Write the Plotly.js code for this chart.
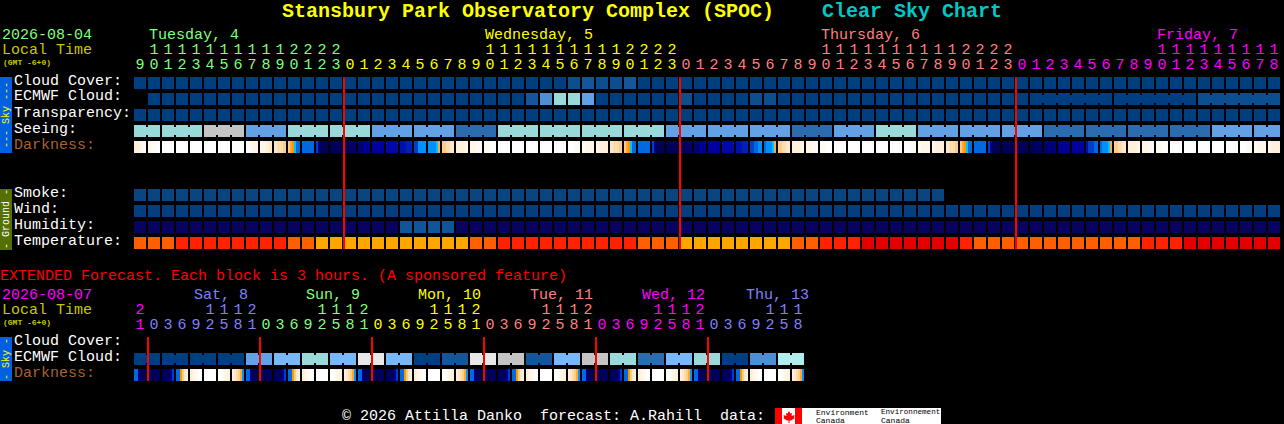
<!DOCTYPE html>
<html>
<head>
<meta charset="utf-8">
<script src="https://cdn.plot.ly/plotly-3.0.1.min.js"></script>
<style>html,body{margin:0;padding:0;background:#000;overflow:hidden}</style>
</head>
<body>
<div id="plot" style="width:1284px;height:424px"></div>
<script>
var FONT = '"Liberation Mono", monospace';

// colour classes, the series below are indexes into these
var skyColors = ['#003f7f','#0d4e8e','#15569b','#2b6cae','#4c8fd2','#62a1e3','#78b8f7','#99d9d9','#b0eded','#c4c4c4','#e8e8e8'];
var smokeColors = ['#0a4580'];
var windColors = ['#033f7f'];
var humidityColors = ['#08035f','#10559a'];
var tempColors = ['#ffa500','#ff5f00','#ff2200','#e40000'];
var darkColors = ['#ffffff','#fffaf4','#fff6ea','#fff0dc','#ffe8c8','#ffdcb0','#ffcc88','#ffa63c','#ff9800','#00c4ff','#0090ff',
  '#0068e0','#0040c8','#0020b8','#0010b0','#0008a8','#0000a0','#000090','#000078','#000068','#000058'];
var dayColors = ['#80ff80','#ffff00','#ff8080','#ff00ff'];
var extDayColors = ['#ff00ff','#8080ff','#80ff80','#ffff00','#ff8080','#ff00ff','#8080ff'];

// hourly forecast, one entry per block
var hours = [9,10,11,12,13,14,15,16,17,18,19,20,21,22,23,
  0,1,2,3,4,5,6,7,8,9,10,11,12,13,14,15,16,17,18,19,20,21,22,23,
  0,1,2,3,4,5,6,7,8,9,10,11,12,13,14,15,16,17,18,19,20,21,22,23,
  0,1,2,3,4,5,6,7,8,9,10,11,12,13,14,15,16,17,18];
var cloudCover = [0,0,0,0,0,0,0,0,0,0, 0,0,0,0,0,0,0,0,0,0, 0,0,0,0,0,0,0,0,0,0,
  0,1,2,1,1,2,0,0,0,0, 0,0,0,0,0,0,0,0,0,0, 0,0,0,0,0,0,0,0,0,0,
  0,0,0,0,0,0,0,0,0,0, 0,0,0,0,0,0,0,0,0,0, 0,0];
var ecmwfCloud = [null,0,0,0,0,0,0,0,0,0, 0,0,0,0,0,0,0,0,0,0, 0,0,0,0,0,0,0,0,2,4,
  7,7,5,0,0,0,0,0,0,1, 0,0,0,0,1,1,0,0,0,0, 0,0,0,0,0,0,0,0,0,0,
  0,0,0,0,0,0,0,0,0,0, 0,0,0,0,0,0,1,1,1,1, 1,1];
var ecmwfSpans = [1,1,1,1,1,1,1,1,1,1, 1,1,1,1,1,1,1,1,1,1, 1,1,1,1,1,1,1,1,1,1,
  1,1,1,1,1,1,1,1,1,1, 1,1,1,1,1,1,1,1,1,1, 1,1,1,1,1,1,1,1,1,1, 1,1,1,1, 6,6,6];
var transparency = [0,0,0,0,0,0,0,0,0,0, 0,0,0,0,0,0,0,0,0,0, 0,0,0,0,0,0,0,0,0,0,
  0,0,0,0,0,0,0,0,0,0, 0,0,0,0,0,0,0,0,0,0, 0,0,0,0,0,0,0,0,0,0,
  0,0,0,0,0,0,0,0,0,0, 0,0,0,0,0,0,0,0,0,0, 0,0];
var seeing = [7,7, 7,7,7, 9,9,9, 5,5,5, 7,7,7, 7,7,7, 5,5,5, 5,5,5, 3,3,3, 7,7,7, 7,7,7, 7,7,7, 7,7,7,
  5,5,5, 5,5,5, 5,5,5, 3,3,3, 5,5,5, 7,7,7, 5,5,5, 5,5,5, 5,5,5, 3,3,3, 3,3,3, 3,3,3, 3,3,3, 5,5,5, 5,5];
var seeingSpans = [2,3,3,3,3,3,3,3,3,3,3,3,3,3,3,3,3,3,3,3,3,3,3,3,3,3,3,2];
var darkness = [[3,3,2,1],[2,1,1,0],[0],[0],[0],[0],[0],[0],[0,1,2,2],[2,2,3,4],[4,5,5,6],[6,7,8,9,11,11],[11],
  [12,17,20,20,20,20],[20],[20,20,19,19],[18,18,17,17],[16],[15],[14,13],[12,12,10,10,10,10],[10,10,10,10,9,7],
  [6,6,5,5,4,4],[3,3,3,2],[2,2,1,1],[1,1,0,0],[0],[0],[0],[0],[0],[0,0,1,1],[1,2,2,2],[2,3,3,3],[4,5,5,6],
  [6,7,8,9,11,11],[11],[12,17,20,20,20,20],[20],[20,20,19,19],[18,18,17,17],[16],[15],[14,13],[12,12,11,11,10,10],[11,10,10,10,9,7],
  [6,6,5,5,4,4],[3,3,3,2],[2,2,1,1],[1,1,0,0],[0],[0],[0],[0],[0],[0,0,1,1],[1,2,2,2],[2,3,3,3],[4,5,5,6],
  [6,7,8,9,11,11],[11],[12,17,20,20,20,20],[20],[20],[20,20,19,19],[19,18,18,18],[17],[16],[14,12,12,12,11,11],[11,10,10,10,9,7],
  [6,6,5,5,4,4],[3,3,3,2],[2,2,1,1],[1,1,0,0],[0],[0],[0],[0],[0],[0,0,1,1],[1,2,2,2],[2,3,3,3]];
var smoke = [0,0,0,0,0,0,0,0,0,0, 0,0,0,0,0,0,0,0,0,0, 0,0,0,0,0,0,0,0,0,0,
  0,0,0,0,0,0,0,0,0,0, 0,0,0,0,0,0,0,0,0,0, 0,0,0,0,0,0,0,0];
var wind = [0,0,0,0,0,0,0,0,0,0, 0,0,0,0,0,0,0,0,0,0, 0,0,0,0,0,0,0,0,0,0,
  0,0,0,0,0,0,0,0,0,0, 0,0,0,0,0,0,0,0,0,0, 0,0,0,0,0,0,0,0,0,0,
  0,0,0,0,0,0,0,0,0,0, 0,0,0,0,0,0,0,0,0,0, 0,0];
var humidity = [0,0,0,0,0,0,0,0,0,0, 0,0,0,0,0,0,0,0,0,1, 1,1,1,0,0,0,0,0,0,0,
  0,0,0,0,0,0,0,0,0,0, 0,0,0,0,0,0,0,0,0,0, 0,0,0,0,0,0,0,0,0,0,
  0,0,0,0,0,0,0,0,0,0, 0,0,0,0,0,0,0,0,0,0, 0,0];
var temperature = [1,1,1,2,2,2,2,2,2,2, 2,1,1,0,0,0,0,0,0,0, 0,0,0,0,1,1,2,2,2,2,
  2,2,2,2,2,2,1,1,1,0, 0,0,0,0,0,0,0,1,1,2, 2,2,3,3,3,3,3,3,3,2,
  1,1,1,1,1,1,1,1,1,1, 1,1,2,2,2,3,3,3,3,3, 3,3];

// extended forecast, one entry per 3 hour block
var extHours = [21, 0,3,6,9,12,15,18,21, 0,3,6,9,12,15,18,21, 0,3,6,9,12,15,18,21,
  0,3,6,9,12,15,18,21, 0,3,6,9,12,15,18,21, 0,3,6,9,12,15,18];
var extCloud = [0,0, 0,0, 0,0, 0,0, 5,5, 6,6, 7,7, 6,6, 10,10, 6,6, 0,0, 2,2,
  10,10, 9,9, 2,2, 6,6, 9,9, 7,7, 3,3, 6,6, 7,7, 0,0, 4,4, 8,8];
var extCloudSpans = [2,2,2,2,2,2,2,2,2,2,2,2,2,2,2,2,2,2,2,2,2,2,2,2];
var extDarkness = [[11,11,18,20,20,20],
  [20],[20,20,20,20,17,12],[11,11,8,6,4,3],[3,2,1,0],[0],[0,1,2,3],[3,4,5,6,7,10],[11,11,18,20,20,20],
  [20],[20,20,20,20,17,12],[11,11,8,6,4,3],[3,2,1,0],[0],[0,1,2,3],[3,4,5,6,7,10],[11,11,18,20,20,20],
  [20],[20,20,20,20,17,12],[11,11,8,6,4,3],[3,2,1,0],[0],[0,1,2,3],[3,4,5,6,7,10],[11,11,18,20,20,20],
  [20],[20,20,20,20,17,12],[11,11,8,6,4,3],[3,2,1,0],[0],[0,1,2,3],[3,4,5,6,7,10],[11,11,18,20,20,20],
  [20],[20,20,20,20,17,12],[11,11,8,6,4,3],[3,2,1,0],[0],[0,1,2,3],[3,4,5,6,7,10],[11,11,18,20,20,20],
  [20],[20,20,20,20,17,12],[11,11,8,6,4,3],[3,2,1,0],[0],[0,1,2,3],[3,4,5,6,7,10]];

// page geometry: 14px per block on x, 16px per row on y
var W = 1284, H = 424;
var BLOCK = 14, ROW = 16, X0 = 140, Y0 = 83;
var CELL_W = 12 / BLOCK, CELL_H = 12 / ROW, LINK_W = 2 / BLOCK, LINK_H = 8 / ROW;
function rowAt(p){ return (p - Y0) / ROW; }

// one bar per block, plus a short bar joining blocks of the same span
function blockRow(values, colors, row, spans){
  var xs = [], hs = [], ws = [], bs = [], cs = [];
  values.forEach(function(v, i){
    if(v === null) return;
    xs.push(i); hs.push(CELL_H); ws.push(CELL_W); bs.push(row - CELL_H / 2); cs.push(colors[v]);
  });
  if(spans){
    var start = 0;
    spans.forEach(function(n){
      for(var k = 0; k < n - 1; k++){
        xs.push(start + k + 0.5); hs.push(LINK_H); ws.push(LINK_W); bs.push(row - LINK_H / 2); cs.push(colors[values[start + k]]);
      }
      start += n;
    });
  }
  return {type:'bar', x:xs, y:hs, width:ws, base:bs, marker:{color:cs, line:{width:0}}, hoverinfo:'skip'};
}

// darkness blocks carry several samples left to right
function darkRow(blocks, row){
  var xs = [], hs = [], ws = [], bs = [], cs = [];
  blocks.forEach(function(samples, i){
    var w = CELL_W / samples.length;
    samples.forEach(function(v, k){
      xs.push(i - CELL_W / 2 + (k + 0.5) * w); hs.push(CELL_H); ws.push(w); bs.push(row - CELL_H / 2); cs.push(darkColors[v]);
    });
  });
  return {type:'bar', x:xs, y:hs, width:ws, base:bs, marker:{color:cs, line:{width:0}}, hoverinfo:'skip'};
}

// hour digits: ones and tens rows, coloured by day
function hourDigits(hrs, colors, yTens, yOnes){
  var xO = [], tO = [], cO = [], xT = [], tT = [], cT = [], d = 0;
  hrs.forEach(function(h, i){
    if(i > 0 && h < hrs[i - 1]) d++;
    xO.push(i); tO.push(String(h % 10)); cO.push(colors[d]);
    if(h >= 10){ xT.push(i); tT.push(String(Math.floor(h / 10))); cT.push(colors[d]); }
  });
  return [xT, xO].map(function(xx, n){
    return {type:'scatter', mode:'text', x:xx, y:xx.map(function(){ return n ? yOnes : yTens; }),
      text:n ? tO : tT, textposition:'middle center', cliponaxis:false,
      textfont:{family:FONT, size:15, color:n ? cO : cT}, hoverinfo:'skip'};
  });
}

// red midnight markers on the left edge of each midnight block
function midnightLines(hrs, top, bottom){
  var xs = [];
  hrs.forEach(function(h, i){
    if(i > 0 && h < hrs[i - 1]) xs.push(i - CELL_W / 2);
  });
  return {type:'bar', x:xs, y:xs.map(function(){ return bottom - top; }), base:top, width:LINK_W,
    marker:{color:'#ff0000', line:{width:0}}, hoverinfo:'skip'};
}

var data = [
  blockRow(cloudCover, skyColors, 0),
  blockRow(ecmwfCloud, skyColors, 1, ecmwfSpans),
  blockRow(transparency, skyColors, 2),
  blockRow(seeing, skyColors, 3, seeingSpans),
  darkRow(darkness, 4),
  blockRow(smoke, smokeColors, 7),
  blockRow(wind, windColors, 8),
  blockRow(humidity, humidityColors, 9),
  blockRow(temperature, tempColors, 10),
  blockRow(extCloud, skyColors, rowAt(359), extCloudSpans),
  darkRow(extDarkness, rowAt(375))
];
data = data.concat(hourDigits(hours, dayColors, rowAt(50), rowAt(65)));
data = data.concat(hourDigits(extHours, extDayColors, rowAt(310), rowAt(325)));
data.push(midnightLines(hours, -CELL_H / 2, 10 + CELL_H / 2));
data.push(midnightLines(extHours, rowAt(337), rowAt(381)));

function label(text, x, y, color, size){
  return {text:text, xref:'paper', yref:'paper', x:x / W, y:1 - y / H, xanchor:'left', yanchor:'middle',
    showarrow:false, borderpad:0, font:{family:FONT, size:size || 15, color:color || '#ffffff'}};
}
function sideText(text, cy, color){
  return {text:text, xref:'paper', yref:'paper', x:6 / W, y:1 - cy / H, xanchor:'center', yanchor:'middle',
    textangle:-90, showarrow:false, borderpad:0, font:{family:FONT, size:10, color:color}};
}

var annotations = [
  label('<b>Stansbury Park Observatory Complex (SPOC)</b>', 281, 12, '#ffff00', 20),
  label('<b>Clear Sky Chart</b>', 821, 12, '#00c8c8', 20),

  label('2026-08-04', 1, 36, '#80ff80'),
  label('Local Time', 1, 50, '#c8c800'),
  label('<b>(GMT -6+0)</b>', 2, 62, '#c8c800', 8),
  label('Tuesday, 4', 148, 36, dayColors[0]),
  label('Wednesday, 5', 484, 36, dayColors[1]),
  label('Thursday, 6', 820, 36, dayColors[2]),
  label('Friday, 7', 1156, 36, dayColors[3]),

  label('Cloud Cover:', 13, 81),
  label('ECMWF Cloud:', 13, 97),
  label('Transparency:', 13, 113),
  label('Seeing:', 13, 129),
  label('Darkness:', 13, 145, '#a8622e'),
  label('Smoke:', 13, 193),
  label('Wind:', 13, 209),
  label('Humidity:', 13, 225),
  label('Temperature:', 13, 241),

  label('EXTENDED Forecast. Each block is 3 hours. (A sponsored feature)', -1, 276, '#ff0000'),
  label('2026-08-07', 1, 295, '#ff00ff'),
  label('Local Time', 1, 310, '#c8c800'),
  label('<b>(GMT -6+0)</b>', 2, 322, '#c8c800', 8),
  label('Sat, 8', 193, 295, extDayColors[1]),
  label('Sun, 9', 305, 295, extDayColors[2]),
  label('Mon, 10', 417, 295, extDayColors[3]),
  label('Tue, 11', 529, 295, extDayColors[4]),
  label('Wed, 12', 641, 295, extDayColors[5]),
  label('Thu, 13', 745, 295, extDayColors[6]),
  label('Cloud Cover:', 13, 341),
  label('ECMWF Cloud:', 13, 357),
  label('Darkness:', 13, 373, '#a8622e'),

  sideText('--- Sky ---', 115, '#ffff00'),
  sideText('- Ground -', 219, '#ffffff'),
  sideText('- Sky -', 359, '#ffff00'),

  label('\u00a9 2026 Attilla Danko\u00a0\u00a0forecast: A.Rahill\u00a0\u00a0data:', 341, 416, '#ffffff'),
  label('Environment', 815, 412, '#000000', 8),
  label('Canada', 815, 420, '#000000', 8),
  label('Environnement', 880, 412, '#000000', 7.6),
  label('Canada', 880, 420, '#000000', 8)
];

function box(x0, y0, x1, y1, color){
  return {type:'rect', xref:'paper', yref:'paper', x0:x0 / W, x1:x1 / W, y0:1 - y0 / H, y1:1 - y1 / H,
    fillcolor:color, line:{width:0}, layer:'below'};
}
var leaf = [[789,411],[790.5,413.5],[792,413],[791.5,416],[794.5,415],[794,417.5],[795,418],[791,420.5],[789.5,420.5],[789.5,423],
  [788.5,423],[788.5,420.5],[787,420.5],[783,418],[784,417.5],[783.5,415],[786.5,416],[786,413],[787.5,413.5]];
var shapes = [
  box(0, 77, 12, 153, '#0060e0'),
  box(0, 189, 12, 250, '#557000'),
  box(0, 337, 12, 381, '#0060e0'),
  box(775, 408, 941, 424, '#ffffff'),
  box(775, 408, 782, 424, '#ff0000'),
  box(795, 408, 802, 424, '#ff0000'),
  {type:'path', xref:'paper', yref:'paper', layer:'below', fillcolor:'#ff0000', line:{width:0},
    path:'M' + leaf.map(function(p){ return (p[0] / W) + ',' + (1 - p[1] / H); }).join('L') + 'Z'}
];

var layout = {
  width:W, height:H,
  margin:{l:0, r:0, t:0, b:0, pad:0},
  paper_bgcolor:'#000000', plot_bgcolor:'#000000',
  showlegend:false, barmode:'overlay',
  xaxis:{range:[-X0 / BLOCK, (W - X0) / BLOCK], visible:false, fixedrange:true},
  yaxis:{range:[(H - Y0) / ROW, -Y0 / ROW], visible:false, fixedrange:true},
  annotations:annotations,
  shapes:shapes
};

Plotly.newPlot('plot', data, layout, {displayModeBar:false, staticPlot:true});
</script>
</body>
</html>
